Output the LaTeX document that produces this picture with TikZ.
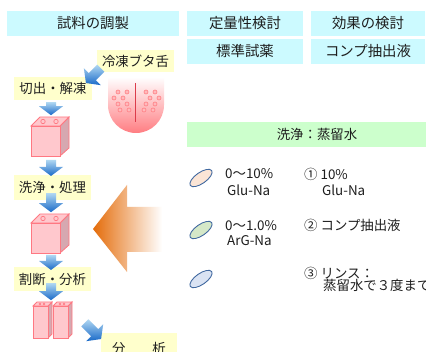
\documentclass[tikz,border=0pt]{standalone}
\usepackage{fontspec}
\setmainfont{Noto Sans CJK JP}
\usetikzlibrary{calc,shapes.geometric}

\definecolor{hdrcyan}{RGB}{204,250,255}
\definecolor{lblyellow}{RGB}{255,255,204}
\definecolor{bargreen}{RGB}{204,255,204}
\definecolor{inkgray}{RGB}{30,30,30}
\definecolor{cubefront}{RGB}{255,200,205}
\definecolor{cubeside}{RGB}{214,168,176}
\definecolor{cubeedge}{RGB}{255,120,130}
\definecolor{arrowlight}{RGB}{175,215,242}
\definecolor{arrowdark}{RGB}{25,105,200}
\definecolor{orangedeep}{RGB}{228,108,10}
\definecolor{tonguered}{RGB}{255,125,130}
\definecolor{tonguemid}{RGB}{255,185,188}
\definecolor{tongueline}{RGB}{220,60,75}
\definecolor{ellipseedge}{RGB}{65,105,160}
\definecolor{peachfill}{RGB}{251,229,214}
\definecolor{sagefill}{RGB}{213,232,200}
\definecolor{bluefill}{RGB}{218,227,243}

\tikzset{
  arrow len/.store in=\arrowlen, arrow len=14,
  hdrbox/.style={fill=hdrcyan, minimum height=25, inner sep=0pt, text=inkgray,
    font=\fontsize{14.4}{16}\selectfont},
  lblbox/.style={fill=lblyellow, inner sep=0pt, text=inkgray,
    font=\fontsize{13.4}{15}\selectfont},
  bodytext/.style={anchor=west, inner sep=0pt, text=inkgray,
    font=\fontsize{13.4}{15}\selectfont},
  sample/.style={ellipse, draw=ellipseedge, line width=0.9pt, rotate=35,
    minimum width=26, minimum height=11, inner sep=0pt},
  % block arrow: tail at the origin, pointing east
  blockarrow/.pic={
    \shade[top color=arrowlight, bottom color=arrowdark]
      (0,-5) -- (\arrowlen-9,-5) -- (\arrowlen-9,-12) -- (\arrowlen,0)
      -- (\arrowlen-9,12) -- (\arrowlen-9,5) -- (0,5) -- cycle;
  },
  % cube: origin at the front face's top-left corner
  cubepic/.pic={
    \filldraw[fill=cubeside, draw=cubeedge, line width=0.8pt]
      (29,0) -- (38,-9) -- (38,22) -- (29,30) -- cycle;
    \filldraw[fill=cubefront, draw=cubeedge, line width=0.8pt] (0,0) rectangle (29,30);
    \filldraw[fill=cubefront, draw=cubeedge, line width=0.8pt]
      (0,0) -- (9,-9) -- (38,-9) -- (29,0) -- cycle;
    \draw[cubeedge, line width=0.7pt] (12,-4.5) circle[radius=2.2] (25,-4.5) circle[radius=2.2];
  },
  % tall prism: origin at the front face's top-left corner
  prismpic/.pic={
    \filldraw[fill=cubeside, draw=cubeedge, line width=0.8pt]
      (15,0) -- (19,-4) -- (19,28) -- (15,32) -- cycle;
    \filldraw[fill=cubefront, draw=cubeedge, line width=0.8pt] (0,0) rectangle (15,32);
    \filldraw[fill=cubefront, draw=cubeedge, line width=0.8pt]
      (0,0) -- (4,-4) -- (19,-4) -- (15,0) -- cycle;
    \draw[cubeedge, line width=0.5pt] (7,-2) circle[radius=0.9] (11,-2) circle[radius=0.9];
  },
}

\begin{document}
\begin{tikzpicture}[x=1pt, y=-1pt]
\useasboundingbox (0,0) rectangle (426,352);
\fill[white] (0,0) rectangle (426,352);

% column headers
\node[hdrbox, minimum width=172] (prep)    at (93,23.5)  {試料の調製};
\node[hdrbox, minimum width=116] (quant)   at (245,23.5) {定量性検討};
\node[hdrbox, minimum width=114] (effect)  at (368,23.5) {効果の検討};
\node[hdrbox, minimum width=116] (reagent) at (245,51.5) {標準試薬};
\node[hdrbox, minimum width=114] (extract) at (368,51.5) {コンプ抽出液};

% preparation steps
\node[lblbox, minimum width=77, minimum height=22] (frozen)   at (135.5,61)  {冷凍ブタ舌};
\node[lblbox, minimum width=78, minimum height=23] (thaw)     at (53,88.5)   {切出・解凍};
\node[lblbox, minimum width=77, minimum height=25] (wash)     at (52.5,187.5){洗浄・処理};
\node[lblbox, minimum width=77, minimum height=24] (cutting)  at (52.5,279)  {割断・分析};
\node[lblbox, minimum width=76, minimum height=30] (analysis) at (139,348)   {分\hspace{2em}析};

% washing bar
\node[fill=bargreen, minimum width=260, minimum height=25, inner sep=0pt, text=inkgray,
      font=\fontsize{13.4}{15}\selectfont] (rinsebar) at (317,134.5) {洗浄：蒸留水};

% tongue
\shade[top color=white, middle color=tonguemid, bottom color=tonguered]
  (108,77) -- (108,105) arc[start angle=180, end angle=0, radius=28] -- (164,77) -- cycle;
\draw[tongueline, line width=1pt] (135,83) -- (135,122);
\foreach \p in {(118,92),(127,92),(114,98),(123,98),(118,104),(127,104),(120,110),(129,110),
                (146,92),(155,92),(150,98),(159,98),(146,104),(155,104),(144,110),(153,110)}
  \draw[tonguered, fill=tonguemid, line width=0.6pt] \p circle[radius=2];

% sample blocks
\pic at (31,126) {cubepic};
\pic at (31,223) {cubepic};
\pic at (33,306) {prismpic};
\pic at (53,306) {prismpic};
\coordinate (cubeA) at (51,117);
\coordinate (cubeB) at (51,214);
\coordinate (prisms) at (51,302);

% flow arrows
\pic[rotate=-135, arrow len=21] at ($(frozen.south west)+(4,-4)$) {blockarrow};
\pic[rotate=-90, arrow len=13] at ($(thaw.south)+(-2,2)$) {blockarrow};
\pic[rotate=-90, arrow len=16] at ($(cubeA)+(0,43)$) {blockarrow};
\pic[rotate=-90, arrow len=19] at ($(wash.south)+(-1.5,-7)$) {blockarrow};
\pic[rotate=-90, arrow len=15] at ($(cubeB)+(0,41)$) {blockarrow};
\pic[rotate=-90, arrow len=17] at ($(cutting.south)+(-1.5,-8)$) {blockarrow};
\pic[rotate=-45, arrow len=23] at ($(analysis.north west)+(-16,-10)$) {blockarrow};

% large treatment arrow
\shade[left color=orangedeep, right color=white]
  (93,229) -- (127,185) -- (127,207) -- (162,207) -- (162,252) -- (127,252) -- (127,272) -- cycle;

% treatment conditions
\node[sample, fill=peachfill] (glu) at (201,178) {};
\node[sample, fill=sagefill]  (arg) at (201,230) {};
\node[sample, fill=bluefill]  (rinse) at (201,279) {};

\node[bodytext] (gluA) at (225,174) {0～10\%};
\node[bodytext] (gluB) at (227,190) {Glu-Na};
\node[bodytext] (argA) at (225,226) {0～1.0\%};
\node[bodytext] (argB) at (227,241) {ArG-Na};

\node[bodytext] (effA) at (304,174) {① 10\%};
\node[bodytext] (effB) at (322,190) {Glu-Na};
\node[bodytext] (effC) at (304,225) {② コンプ抽出液};
\node[bodytext] (effD) at (304,273) {③ リンス：};
\node[bodytext] (effE) at (323,285) {蒸留水で３度まで};
\end{tikzpicture}
\end{document}
